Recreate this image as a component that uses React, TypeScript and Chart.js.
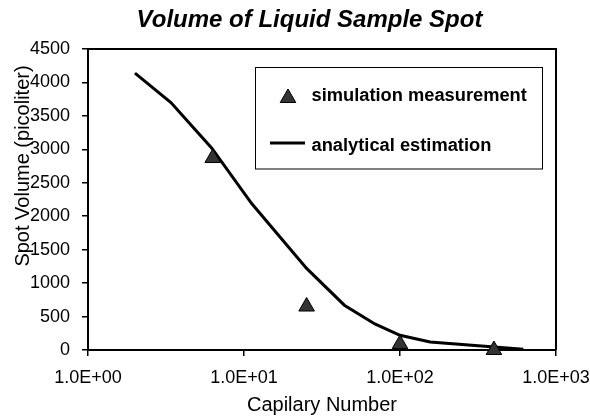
import React, { useEffect, useRef } from 'react';
import { Chart, registerables } from 'chart.js';

Chart.register(...registerables);

const chartTitle = 'Volume of Liquid Sample Spot';
const xAxisTitle = 'Capilary Number';
const yAxisTitle = 'Spot Volume (picoliter)';

const xTickValues = [1, 10, 100, 1000];
const xTickLabels = ['1.0E+00', '1.0E+01', '1.0E+02', '1.0E+03'];
const yMin = 0;
const yMax = 4500;
const yStep = 500;

const simLabel = 'simulation measurement';
const simX = [6.3, 25.2, 100, 400];
const simY = [2870, 650, 90, 0];

const anaLabel = 'analytical estimation';
const anaX = [2, 3.4, 6.2, 11.2, 25.2, 44, 69, 100, 156, 617];
const anaY = [4140, 3700, 3020, 2190, 1220, 670, 390, 220, 120, 10];

const FONT = "'Liberation Sans', Arial, Helvetica, sans-serif";

const decorPlugin = {
  id: 'decor',
  afterDraw(chart: any) {
    const ctx = chart.ctx as CanvasRenderingContext2D;
    const a = chart.chartArea;
    ctx.save();
    // plot frame (top and right)
    ctx.strokeStyle = '#000';
    ctx.lineWidth = 2;
    ctx.beginPath();
    ctx.moveTo(a.left, a.top);
    ctx.lineTo(a.right, a.top);
    ctx.lineTo(a.right, a.bottom);
    ctx.stroke();

    // title
    ctx.fillStyle = '#000';
    ctx.font = `italic bold 24px ${FONT}`;
    ctx.textAlign = 'center';
    ctx.textBaseline = 'middle';
    ctx.fillText(chartTitle, 309.5, 20);

    // y axis title
    ctx.save();
    ctx.translate(23, 166);
    ctx.rotate(-Math.PI / 2);
    ctx.font = `20px ${FONT}`;
    ctx.textAlign = 'center';
    ctx.textBaseline = 'middle';
    ctx.fillText(yAxisTitle, 0, 0);
    ctx.restore();

    // legend
    const ds = chart.data.datasets;
    const bx = 255.5, by = 67.5, bw = 287, bh = 101.5;
    ctx.fillStyle = '#fff';
    ctx.fillRect(bx, by, bw, bh);
    ctx.strokeStyle = '#000';
    ctx.lineWidth = 1;
    ctx.strokeRect(bx, by, bw, bh);

    // row 1: triangle marker
    const tx = 288, ty = 98, r = 9;
    ctx.beginPath();
    for (let i = 0; i < 3; i++) {
      const ang = (i * 2 * Math.PI) / 3;
      const px = tx + Math.sin(ang) * r;
      const py = ty - Math.cos(ang) * r;
      if (i === 0) ctx.moveTo(px, py); else ctx.lineTo(px, py);
    }
    ctx.closePath();
    ctx.fillStyle = ds[0].backgroundColor;
    ctx.fill();
    ctx.strokeStyle = ds[0].borderColor;
    ctx.lineWidth = 1;
    ctx.stroke();

    ctx.fillStyle = '#000';
    ctx.font = `bold 18.3px ${FONT}`;
    ctx.textAlign = 'left';
    ctx.textBaseline = 'middle';
    ctx.fillText(ds[0].label, 311.5, 96);

    // row 2: line sample
    ctx.strokeStyle = ds[1].borderColor;
    ctx.lineWidth = 3;
    ctx.beginPath();
    ctx.moveTo(270, 143);
    ctx.lineTo(305, 143);
    ctx.stroke();
    ctx.fillText(ds[1].label, 311.5, 146);

    ctx.restore();
  },
};

export default function App() {
  const ref = useRef<HTMLCanvasElement | null>(null);

  useEffect(() => {
    if (!ref.current) return;
    const chart = new Chart(ref.current, {
      type: 'scatter',
      data: {
        datasets: [
          {
            label: simLabel,
            data: simX.map((x, i) => ({ x, y: simY[i] })),
            showLine: false,
            pointStyle: 'triangle',
            pointRadius: 9,
            pointHoverRadius: 9,
            backgroundColor: '#333333',
            borderColor: '#000000',
            borderWidth: 1,
            clip: false,
          },
          {
            label: anaLabel,
            data: anaX.map((x, i) => ({ x, y: anaY[i] })),
            showLine: true,
            pointRadius: 0,
            borderColor: '#000000',
            backgroundColor: '#000000',
            borderWidth: 3,
            tension: 0,
            clip: false,
          },
        ],
      },
      options: {
        responsive: false,
        animation: false,
        devicePixelRatio: 1,
        layout: { padding: { top: 49, right: 34, left: 0, bottom: 0 } },
        plugins: {
          legend: { display: false },
          title: { display: false },
          tooltip: { enabled: false },
        },
        font: { family: FONT },
        scales: {
          x: {
            type: 'logarithmic',
            min: 1,
            max: 1000,
            afterBuildTicks: (s: any) => {
              s.ticks = xTickValues.map((v) => ({ value: v, major: true }));
            },
            afterFit: (s: any) => {
              s.height = 70;
              s.paddingLeft = 0;
              s.paddingRight = 0;
            },
            grid: {
              display: true,
              drawOnChartArea: false,
              drawTicks: true,
              tickLength: 6,
              color: '#000',
              lineWidth: 1.5,
            },
            border: { display: true, color: '#000', width: 2 },
            ticks: {
              autoSkip: false,
              maxRotation: 0,
              padding: 11,
              color: '#000',
              font: { family: FONT, size: 18 },
              callback: (v: any) => {
                const i = xTickValues.indexOf(Number(v));
                return i >= 0 ? xTickLabels[i] : '';
              },
            },
            title: {
              display: true,
              text: xAxisTitle,
              color: '#000',
              font: { family: FONT, size: 20 },
              padding: { top: 0, bottom: 3 },
            },
          },
          y: {
            type: 'linear',
            min: yMin,
            max: yMax,
            afterFit: (s: any) => {
              s.width = 88;
              s.paddingTop = 0;
              s.paddingBottom = 0;
            },
            grid: {
              display: true,
              drawOnChartArea: false,
              drawTicks: true,
              tickLength: 6,
              color: '#000',
              lineWidth: 1.5,
            },
            border: { display: true, color: '#000', width: 2 },
            ticks: {
              stepSize: yStep,
              padding: 12,
              color: '#000',
              font: { family: FONT, size: 18 },
              callback: (v: any) => String(v),
            },
            title: { display: false },
          },
        },
      },
      plugins: [decorPlugin],
    } as any);
    return () => chart.destroy();
  }, []);

  return (
    <div style={{ position: 'absolute', left: 0, top: 0, width: 590, height: 420, background: '#fff' }}>
      <canvas ref={ref} width={590} height={420} style={{ display: 'block' }} />
    </div>
  );
}
